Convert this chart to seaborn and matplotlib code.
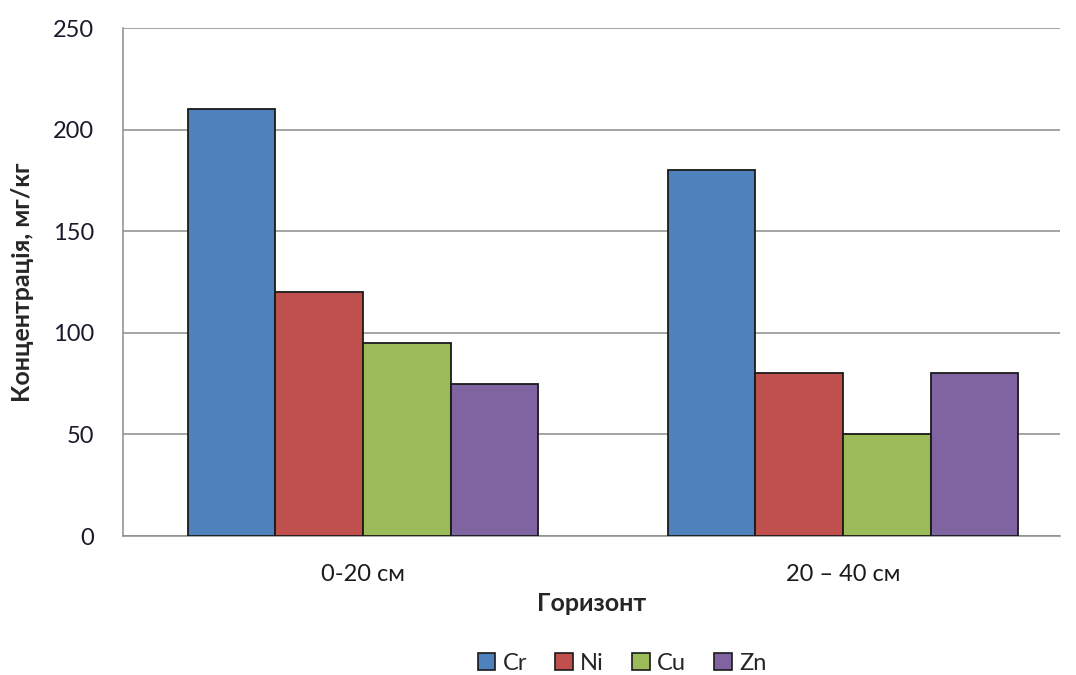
import matplotlib
matplotlib.use("Agg")
import matplotlib.pyplot as plt
import seaborn as sns
import pandas as pd

# Heavy-metal concentrations by soil horizon
horizons = ["0-20 см", "20 – 40 см"]
metals = ["Cr", "Ni", "Cu", "Zn"]
cr = [210, 180]
ni = [120, 80]
cu = [95, 50]
zn = [75, 80]
colors = ["#4F81BD", "#C0504D", "#9BBB59", "#8064A2"]

rows = []
for metal, vals in zip(metals, [cr, ni, cu, zn]):
    for h, v in zip(horizons, vals):
        rows.append({"Горизонт": h, "Метал": metal, "Концентрація": v})
df = pd.DataFrame(rows)

sns.set_theme(style="white")
plt.rcParams["font.family"] = ["Lato", "DejaVu Sans"]

fig = plt.figure(figsize=(10.76, 6.75), dpi=100)
ax = fig.add_axes([0.1143, 0.2059, 0.8707, 0.7526])

sns.barplot(data=df, x="Горизонт", y="Концентрація", hue="Метал",
            order=horizons, hue_order=metals, palette=colors, saturation=1,
            width=0.73, edgecolor="#1a1a1a", linewidth=1.3,
            errorbar=None, ax=ax, zorder=3)

ax.set_xlim(-0.5, 1.452)
ax.set_ylim(0, 250)
ax.set_yticks(range(0, 251, 50))
ax.yaxis.grid(True, color="#8c8c8c", linewidth=1.1, zorder=0)
ax.set_axisbelow(True)

for side in ["top", "right"]:
    ax.spines[side].set_visible(False)
for side in ["left", "bottom"]:
    ax.spines[side].set_color("#8c8c8c")
    ax.spines[side].set_linewidth(1.1)

ax.tick_params(axis="y", direction="out", length=7, width=1.1,
               color="#8c8c8c", pad=14, labelsize=17, labelcolor="#1a1a2a")
ax.tick_params(axis="x", length=0, pad=20, labelsize=17, labelcolor="#1a1a1a")

ax.set_xlabel("Горизонт", fontsize=18, fontweight="bold", labelpad=5)
ax.set_ylabel("Концентрація, мг/кг", fontsize=18, fontweight="bold")
ax.yaxis.set_label_coords(-0.095, 0.5)

ax.legend_.remove()
handles = [plt.Rectangle((0, 0), 1, 1, facecolor=c, edgecolor="#1a1a1a", linewidth=1.2)
           for c in colors]
fig.legend(handles, metals, loc="center", bbox_to_anchor=(622 / 1076, 1 - 663 / 675),
           ncol=4, frameon=False, fontsize=17, handlelength=0.75, handleheight=0.75,
           handletextpad=0.3, columnspacing=1.2)

fig.savefig("out.png", dpi=100)
